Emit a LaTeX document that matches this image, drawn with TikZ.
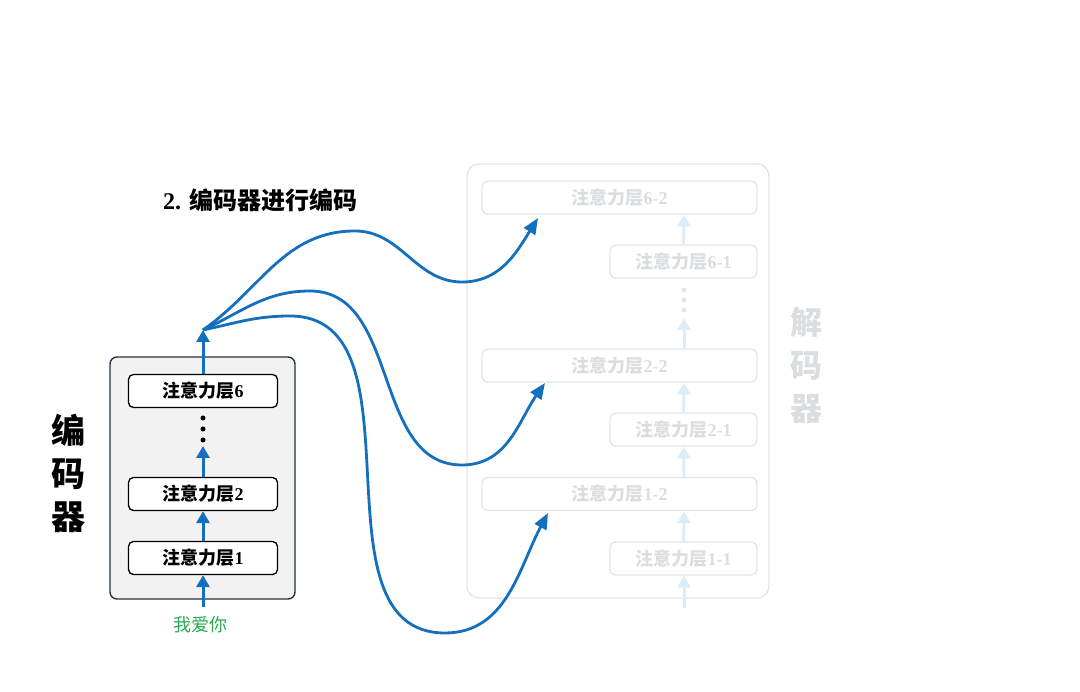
\documentclass[tikz,border=0pt]{standalone}
\usepackage{fontspec}
\setmainfont{Liberation Serif}
\newfontfamily\cjk{Noto Sans CJK SC}
\usetikzlibrary{positioning,arrows.meta}
\definecolor{flow}{RGB}{20,112,190}
\definecolor{faint}{RGB}{226,229,232}
\definecolor{fainttext}{RGB}{218,222,225}
\definecolor{faintarrow}{RGB}{222,236,248}
\definecolor{green}{RGB}{40,170,80}
\definecolor{slate}{RGB}{35,52,62}
\tikzset{
	layer/.style={draw, rounded corners=5pt, line width=1.3pt, minimum width=149pt, minimum height=33pt, fill=white, font=\bfseries\fontsize{18}{18}\selectfont},
	ghost/.style={draw=faint, rounded corners=6pt, line width=1.3pt, text=fainttext, fill=white, minimum height=33pt, font=\bfseries\fontsize{18}{18}\selectfont},
	up/.style={-{Triangle[length=12pt,width=13pt]}, line width=3pt, flow},
	ghostup/.style={-{Triangle[length=12pt,width=13pt]}, line width=3pt, faintarrow},
	curve/.style={-{Triangle[length=16pt,width=13pt]}, line width=2.8pt, flow}
}
\begin{document}
\begin{tikzpicture}[x=1pt,y=-1pt]
		\useasboundingbox (0,0) rectangle (1080,692);
		% encoder
		\draw[rounded corners=7pt, fill=gray!10, draw=slate, line width=1.4pt] (110,357) rectangle (295,599);
		\node[layer] (e6) at (203,391) {\cjk 注意力层\rmfamily\bfseries 6};
		\node[layer] (e2) at (203,494) {\cjk 注意力层\rmfamily\bfseries 2};
		\node[layer] (e1) at (203,558) {\cjk 注意力层\rmfamily\bfseries 1};
		\foreach \y in {418,429,440}
			\fill (203,\y) circle (2.5pt);
		\coordinate (in) at (203,607);
		\coordinate (dots) at (203,446);
		\coordinate (src) at (203,330);
		\draw[up] (in) -- (e1);
		\draw[up] (e1) -- (e2);
		\draw[up] (e2) -- (dots);
		\draw[up] (e6) -- (src);
		\node[text=green, font=\fontsize{18}{18}\selectfont] (word) at (200,625) {\cjk 我爱你};
		\node[font=\bfseries\fontsize{34}{43}\selectfont, align=center] (enc) at (68,473) {\cjk 编\\\cjk 码\\\cjk 器};
		\node[font=\bfseries\fontsize{24}{24}\selectfont] (title) at (260,200) {2. {\cjk 编码器进行编码}};
		% decoder
		\draw[rounded corners=12pt, draw=faint, line width=1.3pt] (467,164) rectangle (769,598);
		\node[ghost, minimum width=275pt] (d62) at (619.5,197.5) {\cjk 注意力层\rmfamily\bfseries 6-2};
		\node[ghost, minimum width=147pt] (d61) at (683.5,261.5) {\cjk 注意力层\rmfamily\bfseries 6-1};
		\node[ghost, minimum width=275pt] (d22) at (619.5,365.5) {\cjk 注意力层\rmfamily\bfseries 2-2};
		\node[ghost, minimum width=147pt] (d21) at (683.5,429.5) {\cjk 注意力层\rmfamily\bfseries 2-1};
		\node[ghost, minimum width=275pt] (d12) at (619.5,494) {\cjk 注意力层\rmfamily\bfseries 1-2};
		\node[ghost, minimum width=147pt] (d11) at (683.5,558.5) {\cjk 注意力层\rmfamily\bfseries 1-1};
		\foreach \y in {290,300,310}
			\fill[faint] (684,\y) circle (2.5pt);
		\coordinate (din) at (684,608);
		\coordinate (ddots) at (684,318);
		\draw[ghostup] (din) -- (d11.south -| din);
		\draw[ghostup] (d11) -- (d12.south -| din);
		\draw[ghostup] (d12.north -| din) -- (d21);
		\draw[ghostup] (d21) -- (d22.south -| din);
		\draw[ghostup] (d22.north -| din) -- (ddots);
		\draw[ghostup] (d61) -- (d62.south -| din);
		\node[text=fainttext, font=\bfseries\fontsize{32}{43}\selectfont, align=center] (dec) at (806,365) {\cjk 解\\\cjk 码\\\cjk 器};
		% encoder output to each cross layer
		\coordinate (t6) at (538,218);
		\coordinate (t2) at (545,383);
		\coordinate (t1) at (548,513);
		\draw[curve] (src) to[out=35,in=180] (355,231) to[out=0,in=180] (462,282) to[out=0,in=238] (t6);
		\draw[curve] (src) to[out=25,in=180] (310,291) to[out=0,in=180] (462,465) to[out=0,in=235] (t2);
		\draw[curve] (src) to[out=12,in=180] (290,316) to[out=0,in=180] (445,633) to[out=0,in=242] (t1);
\end{tikzpicture}
\end{document}
